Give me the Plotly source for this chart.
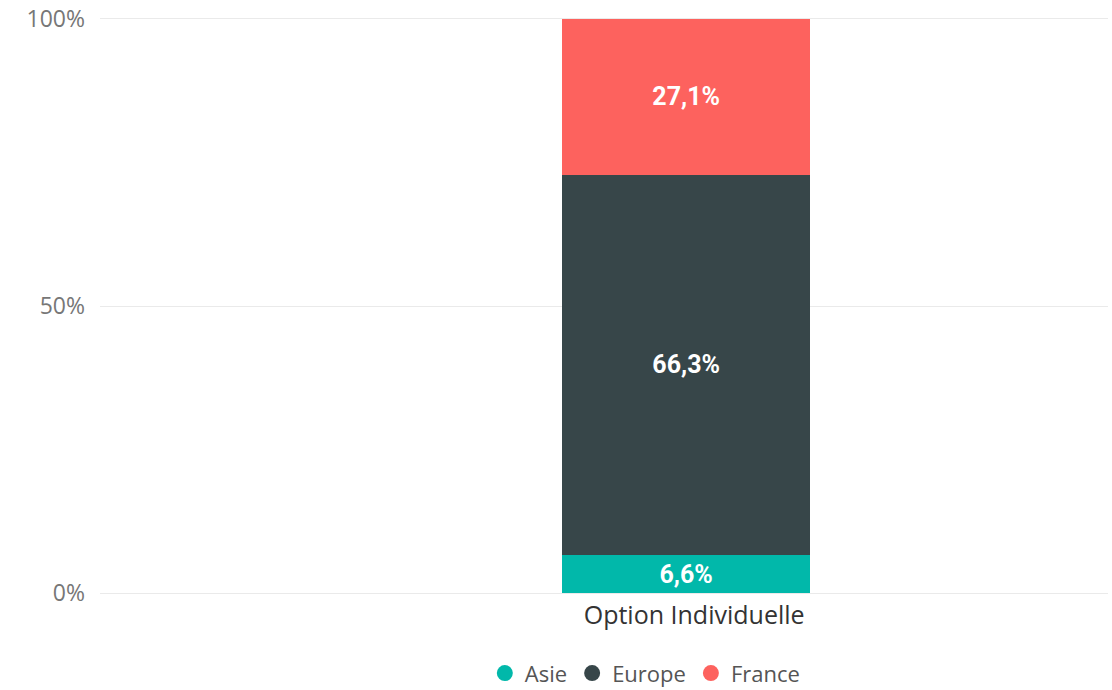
import plotly.graph_objs as go

# données
categories = ['Option Individuelle']
regions = ['Asie', 'Europe', 'France']
valeurs = {'Asie': [6.6], 'Europe': [66.3], 'France': [27.1]}
couleurs = {'Asie': '#01B8AA', 'Europe': '#374649', 'France': '#FD625E'}
tick_vals = [0, 50, 100]
tick_text = ['0%', '50%', '100%']

fig = go.Figure()
for r in regions:
    fig.add_trace(go.Bar(
        x=categories, y=valeurs[r], name=r, showlegend=False,
        marker=dict(color=couleurs[r], line=dict(width=0)),
        text=[f"{v:.1f}%".replace('.', ',') for v in valeurs[r]],
        textposition='inside', insidetextanchor='middle',
        textfont=dict(family='Roboto', size=25, color='white', weight='bold'),
        width=0.492,
    ))

# légende avec des ronds (comme Power BI)
for r in regions:
    fig.add_trace(go.Scatter(
        x=categories, y=[None], name=r, mode='markers',
        marker=dict(color=couleurs[r], size=18, symbol='circle'),
        hoverinfo='skip',
    ))

fig.update_layout(
    barmode='stack',
    width=1112, height=690,
    margin=dict(l=100, r=4, t=16, b=94, autoexpand=False),
    plot_bgcolor='white', paper_bgcolor='white',
    font=dict(family='Open Sans', color='#666666', size=22),
    showlegend=True,
    legend=dict(orientation='h', x=0.541, xanchor='center', y=-0.097, yanchor='top',
                font=dict(size=22, color='#555555'), itemwidth=30, traceorder='normal',
                itemsizing='trace', tracegroupgap=0),
    xaxis=dict(type='category', range=[-1.163, 0.837], showgrid=False,
               tickfont=dict(size=25, color='#333333'), ticks='', showline=False,
               ticklabelstandoff=2, ticklabelshift=8, automargin=False),
    yaxis=dict(range=[-0.5, 100.5], tickvals=tick_vals, ticktext=tick_text,
               showgrid=True, gridcolor='#EAEAEA', gridwidth=1, zeroline=False,
               ticks='', ticklabelstandoff=14, automargin=False,
               tickfont=dict(size=23, color='#777777')),
)

# pas de marge autour du graphique dans la page
fig.write_html("out.html", post_script="document.body.style.margin='0px';",
               config={'displayModeBar': False})
